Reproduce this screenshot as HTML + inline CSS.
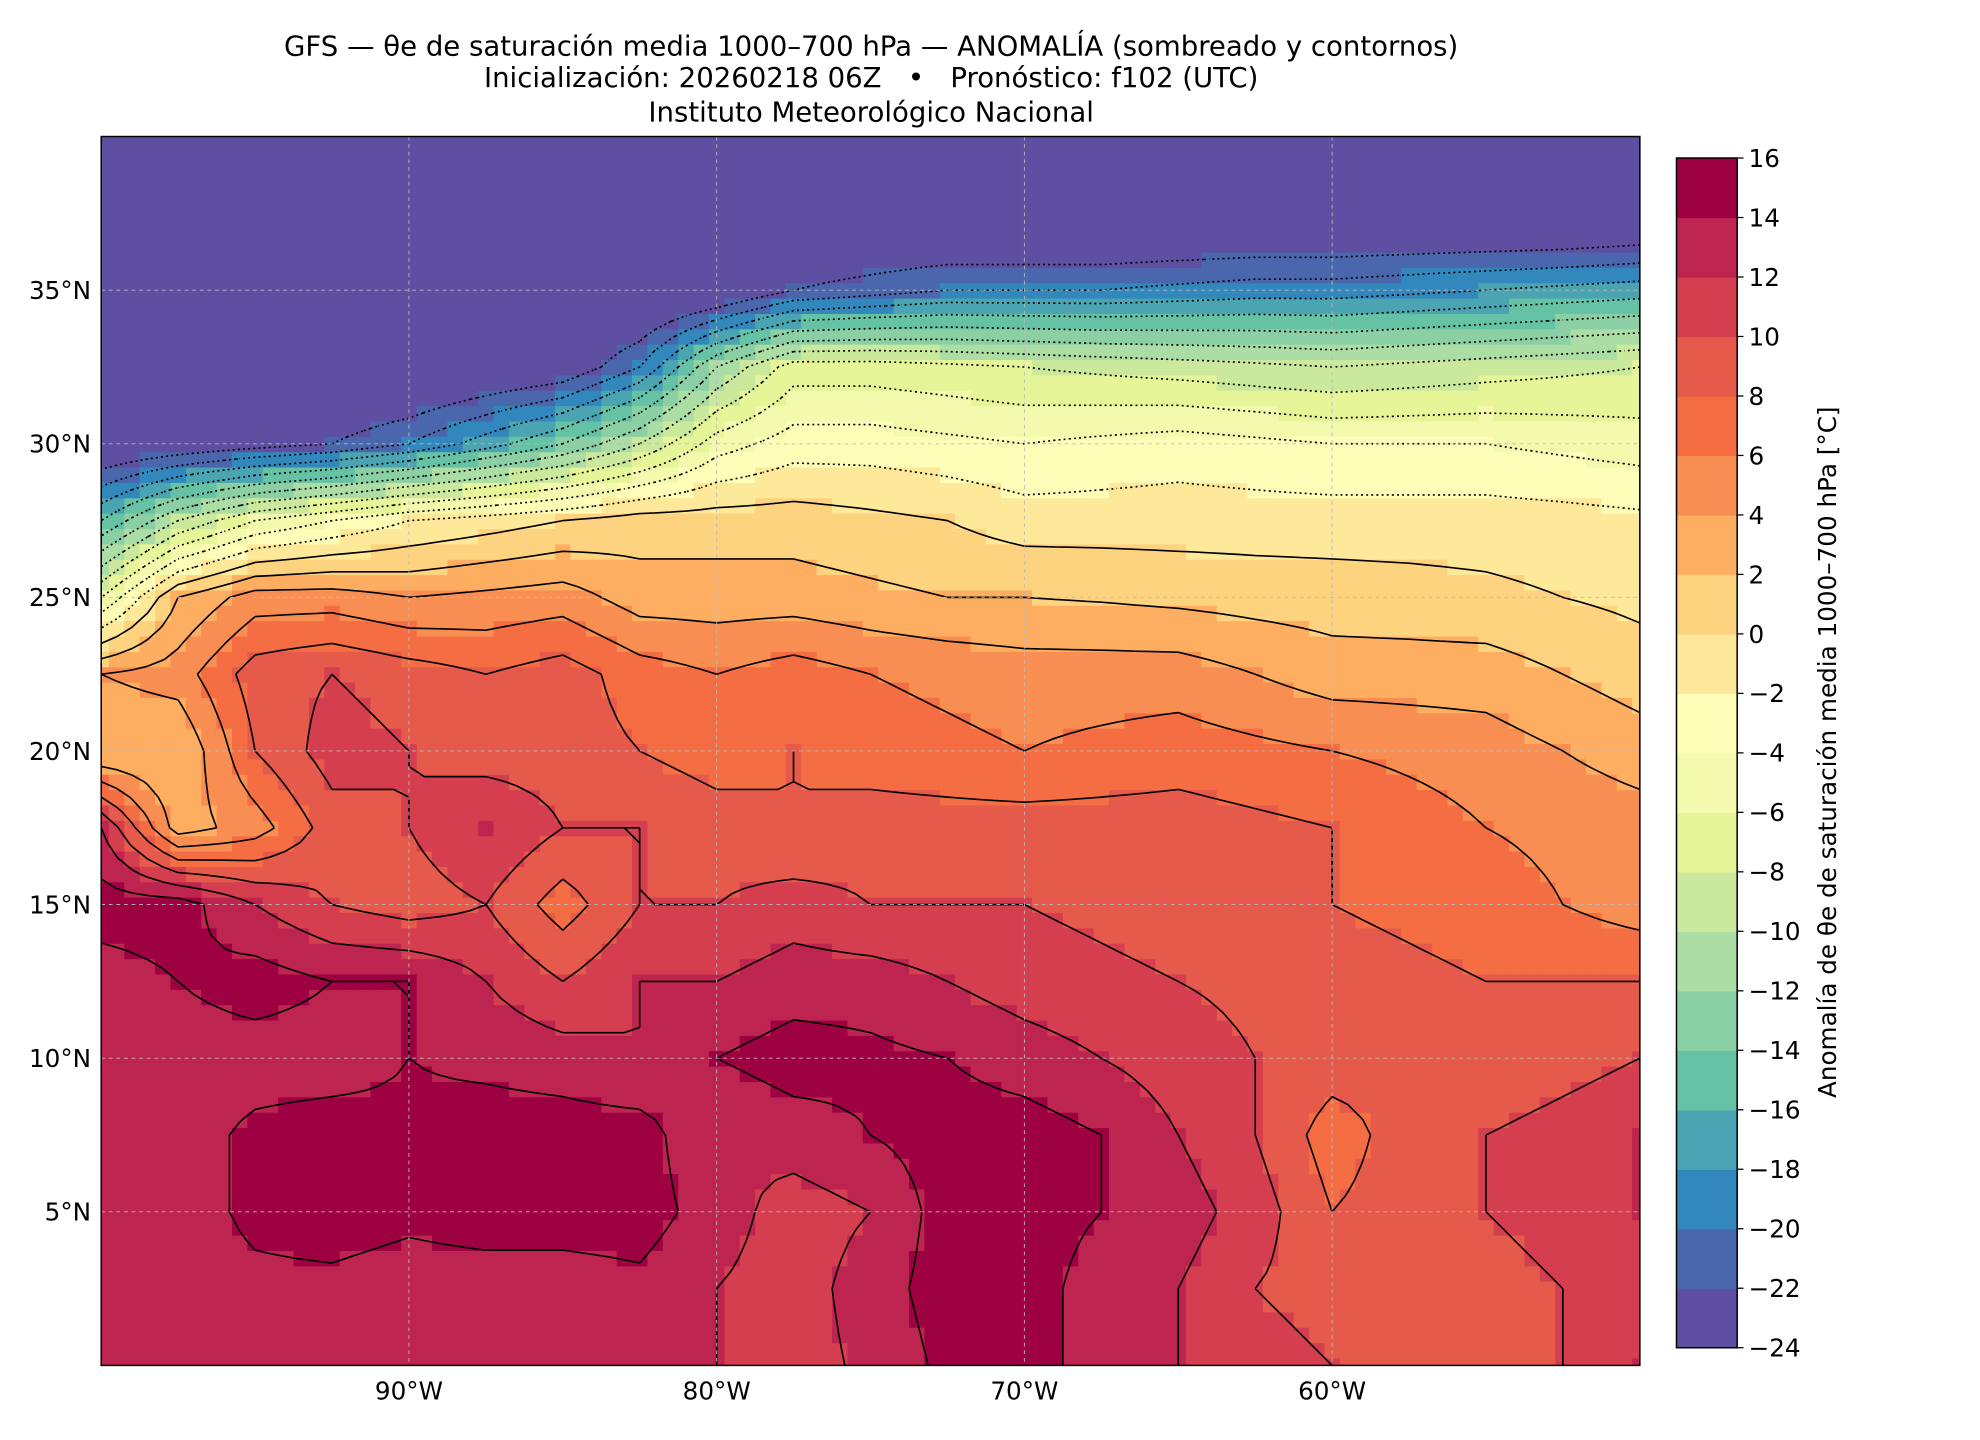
<!DOCTYPE html>
<html><head><meta charset="utf-8"><style>
html,body{margin:0;padding:0;background:#fff;}
svg{display:block;font-family:"DejaVu Sans","Liberation Sans",sans-serif;}
</style></head><body>
<svg id="fig" width="1980" height="1440" viewBox="0 0 1566 1139" xmlns="http://www.w3.org/2000/svg">
<defs><clipPath id="pclip"><rect x="80" y="108" width="1217" height="972"/></clipPath></defs>
<g font-size="21.8" text-anchor="middle" fill="#000" style="white-space:pre">
<text x="689" y="44">GFS — θe de saturación media 1000–700 hPa — ANOMALÍA (sombreado y contornos)</text>
<text x="689" y="69" xml:space="preserve">Inicialización: 20260218 06Z   •   Pronóstico: f102 (UTC)</text>
<text x="689" y="96">Instituto Meteorológico Nacional</text>
</g>
<g id="map" clip-path="url(#pclip)"></g>
<g id="contours" clip-path="url(#pclip)"></g>
<g id="grid"></g>
<rect x="80" y="108" width="1217" height="972" fill="none" stroke="#000" stroke-width="1.2"/>
<g id="axes" font-size="19.5" fill="#000"></g>
<g id="cbar"></g>
<text transform="translate(1452,595) rotate(-90)" text-anchor="middle" font-size="19.5">Anomalía de θe de saturación media 1000–700 hPa [°C]</text>
</svg>
<script>
const lons=[-100,-97.5,-95,-92.5,-90,-87.5,-85,-82.5,-80,-77.5,-75,-72.5,-70,-67.5,-65,-62.5,-60,-57.5,-55,-52.5,-50];
const lats=[40,37.5,35,32.5,30,27.5,25,22.5,20,17.5,15,12.5,10,7.5,5,2.5,0];
const r40=[-26,-26,-26,-26,-26,-26,-26,-26,-26,-26,-26,-26,-26,-26,-26,-26,-26,-26,-26,-26,-26];
const r375=[-26,-26,-26,-26,-26,-26,-26,-26,-26,-26,-26,-26,-26,-26,-26,-26,-26,-26,-26,-26,-25.5];
const r35=[-26,-26,-26,-26,-26,-26,-26,-26,-25,-22,-21,-20,-20,-20,-19.5,-19,-19,-18.5,-18,-17.5,-17];
const r325=[-26,-26,-26,-26,-26,-25,-24,-20,-12,-7,-7,-7.5,-8,-8.5,-9,-9.5,-10,-9.5,-9,-8.5,-8];
const r30=[-25,-24,-23,-22,-20,-17,-14,-10,-5,-3,-3,-3.5,-4,-3.5,-3,-3.5,-4,-4,-4,-4.5,-5];
const r275=[-16,-10,-6,-4,-2,-1,0,1,1,1,0.5,0,-1,-1,-1,-1,-1,-1,-1,-1.2,-1.5];
const r25=[-6,2,5,5,4,4.5,5,3,3,3,2.5,2,2,1.8,1.5,1.2,1,0.8,0.5,0,-0.5];
const r225=[4,5,9,10,9,8,9,7,6,7,6,5.5,5,5,5,4,3,3,3,2,1];
const r20=[2,2,8,11,10,9,9,8,7,8,7,6.5,6,6.5,7,6.5,6,5.5,5,4,3];
const r175=[12,3,5,9,10,12,10,10,9,8,9,9,9,9,9,8.5,8,7,6,5.5,5];
const r15=[15,15,12,10,9,10,7,10,10,11,10,10,10,9.5,9,8.5,8,7.5,7,6,5];
const r125=[13,14,15,14,14,12,10,12,12,13,13,12,11,10.5,10,9.5,9,8.5,8,8,8];
const r10=[13,13,13,13,14,13.5,13,12,14,15,14.5,14,13,12,11,10,9,8.5,8,9,10];
const r75=[13,13,14.5,15,14.5,15,15,15,12,13,14,15,15,14,12,10,7,9,10,11,12];
const r5=[12,13,14.5,15,14.5,15,15,15,13,11,12,15,15,14,13,11,8,9,10,11,12];
const r25s=[13,13,13.5,13.5,13,13,13,13.5,12,11,13,15,15,13,12,10,9,9,9,10,11];
const r0=[13,13,13,13,13,13,13,13,12,11,12.5,14.5,15,13,12,11,10,9,9,10,12];
const rows=[r40,r375,r35,r325,r30,r275,r25,r225,r20,r175,r15,r125,r10,r75,r5,r25s,r0];
const levels=[-24,-22,-20,-18,-16,-14,-12,-10,-8,-6,-4,-2,0,2,4,6,8,10,12,14,16];
const colors=["#5e4fa2","#4a67ad","#3288bd","#4ba4b1","#66c2a5","#8ad0a4","#abdda4","#cbe99d","#e6f598","#f3faad","#fefeb9","#fee89a","#fdd380","#fdae61","#f98e52","#f46d43","#e55a4a","#d53e4f","#be2450","#9e0142"];
const lonTicks=[-90,-80,-70,-60];
const latTicks=[35,30,25,20,15,10,5];
const NS="http://www.w3.org/2000/svg";
const X0=80,X1=1297,Y0=108,Y1=1080;
function xs(lon){return X0+(lon+100)/50*(X1-X0);}
function ys(lat){return Y1-(lat/40)*(Y1-Y0);}
function field(lon,lat){
  let fi=(lon+100)/2.5, fj=(40-lat)/2.5;
  fi=Math.max(0,Math.min(20,fi)); fj=Math.max(0,Math.min(16,fj));
  const i=Math.min(19,Math.floor(fi)), j=Math.min(15,Math.floor(fj));
  const u=fi-i, v=fj-j;
  return rows[j][i]*(1-u)*(1-v)+rows[j][i+1]*u*(1-v)+rows[j+1][i]*(1-u)*v+rows[j+1][i+1]*u*v;
}
function colorFor(v){
  if(v<levels[0])return colors[0];
  for(let k=0;k<colors.length;k++){if(v<levels[k+1])return colors[k];}
  return colors[colors.length-1];
}
const map=document.getElementById('map');
const step=0.5;
const NI=100,NJ=80;
const vals=[];
for(let j=0;j<=NJ;j++){vals.push([]);for(let i=0;i<=NI;i++){vals[j].push(field(-100+i*step,j*step));}}
for(let j=0;j<=NJ;j++){
  for(let i=0;i<=NI;i++){
    const lon=-100+i*step,lat=j*step;
    const r=document.createElementNS(NS,'rect');
    const x=xs(lon-step/2),y=ys(lat+step/2);
    r.setAttribute('x',x.toFixed(2));r.setAttribute('y',y.toFixed(2));
    r.setAttribute('width',(xs(lon+step/2)-x+0.6).toFixed(2));
    r.setAttribute('height',(ys(lat-step/2)-y+0.6).toFixed(2));
    r.setAttribute('fill',colorFor(vals[j][i]));
    
    
    map.appendChild(r);
  }
}
const cg=document.getElementById('contours');
for(let k=1;k<levels.length-1;k++){
  const L=levels[k];let d='';
  for(let j=0;j<NJ;j++)for(let i=0;i<NI;i++){
    const lon0=-100+i*step,lat0=j*step;
    const c=[[lon0,lat0,vals[j][i]],[lon0+step,lat0,vals[j][i+1]],[lon0+step,lat0+step,vals[j+1][i+1]],[lon0,lat0+step,vals[j+1][i]]];
    const pts=[];
    for(let e=0;e<4;e++){
      const a=c[e],b=c[(e+1)%4];
      if((a[2]<L)!==(b[2]<L)){
        const t=(L-a[2])/(b[2]-a[2]);
        pts.push([xs(a[0]+t*(b[0]-a[0])),ys(a[1]+t*(b[1]-a[1]))]);
      }
    }
    for(let p=0;p+1<pts.length;p+=2){
      d+='M'+pts[p][0].toFixed(1)+' '+pts[p][1].toFixed(1)+'L'+pts[p+1][0].toFixed(1)+' '+pts[p+1][1].toFixed(1);
    }
  }
  if(d){
    const p=document.createElementNS(NS,'path');
    p.setAttribute('d',d);p.setAttribute('fill','none');p.setAttribute('stroke','#000');
    p.setAttribute('stroke-width','1.3');
    if(L<0)p.setAttribute('stroke-dasharray','1.5 2.5');
    
    
    cg.appendChild(p);
  }
}
const grid=document.getElementById('grid'),axes=document.getElementById('axes');
lonTicks.forEach(lon=>{
  const x=xs(lon);
  const l=document.createElementNS(NS,'line');
  l.setAttribute('x1',x);l.setAttribute('x2',x);l.setAttribute('y1',Y0);l.setAttribute('y2',Y1);
  l.setAttribute('stroke','#bbb');l.setAttribute('stroke-width','0.7');l.setAttribute('stroke-dasharray','3 3');
  
  
  grid.appendChild(l);
  const t=document.createElementNS(NS,'text');
  t.setAttribute('x',x);t.setAttribute('y',1107);t.setAttribute('text-anchor','middle');
  t.textContent=Math.abs(lon)+'°W';
  
  
  axes.appendChild(t);
});
latTicks.forEach(lat=>{
  const y=ys(lat);
  const l=document.createElementNS(NS,'line');
  l.setAttribute('x1',X0);l.setAttribute('x2',X1);l.setAttribute('y1',y);l.setAttribute('y2',y);
  l.setAttribute('stroke','#bbb');l.setAttribute('stroke-width','0.7');l.setAttribute('stroke-dasharray','3 3');
  
  
  grid.appendChild(l);
  const t=document.createElementNS(NS,'text');
  t.setAttribute('x',72);t.setAttribute('y',y+7);t.setAttribute('text-anchor','end');
  t.textContent=lat+'°N';
  
  
  axes.appendChild(t);
});
const cb=document.getElementById('cbar');
const CX=1326,CW=48,CT=125,CB=1066;
const segH=(CB-CT)/colors.length;
colors.forEach((col,k)=>{
  const r=document.createElementNS(NS,'rect');
  r.setAttribute('x',CX);r.setAttribute('y',(CB-(k+1)*segH).toFixed(2));
  r.setAttribute('width',CW);r.setAttribute('height',(segH+0.5).toFixed(2));
  r.setAttribute('fill',col);
  
  
  cb.appendChild(r);
});
const fr=document.createElementNS(NS,'rect');
fr.setAttribute('x',CX);fr.setAttribute('y',CT);fr.setAttribute('width',CW);fr.setAttribute('height',CB-CT);
fr.setAttribute('fill','none');fr.setAttribute('stroke','#000');fr.setAttribute('stroke-width','1.2');


cb.appendChild(fr);
levels.forEach((L,k)=>{
  if(L%2!==0)return;
  const y=CB-k*segH;
  const tk=document.createElementNS(NS,'line');
  tk.setAttribute('x1',CX+CW);tk.setAttribute('x2',CX+CW+5);tk.setAttribute('y1',y);tk.setAttribute('y2',y);
  tk.setAttribute('stroke','#000');
  
  
  cb.appendChild(tk);
  const t=document.createElementNS(NS,'text');
  t.setAttribute('x',CX+CW+9);t.setAttribute('y',y+7);t.setAttribute('font-size','19.5');
  t.textContent=(L<0?'−'+Math.abs(L):String(L));
  
  
  cb.appendChild(t);
});
</script>
</body></html>
